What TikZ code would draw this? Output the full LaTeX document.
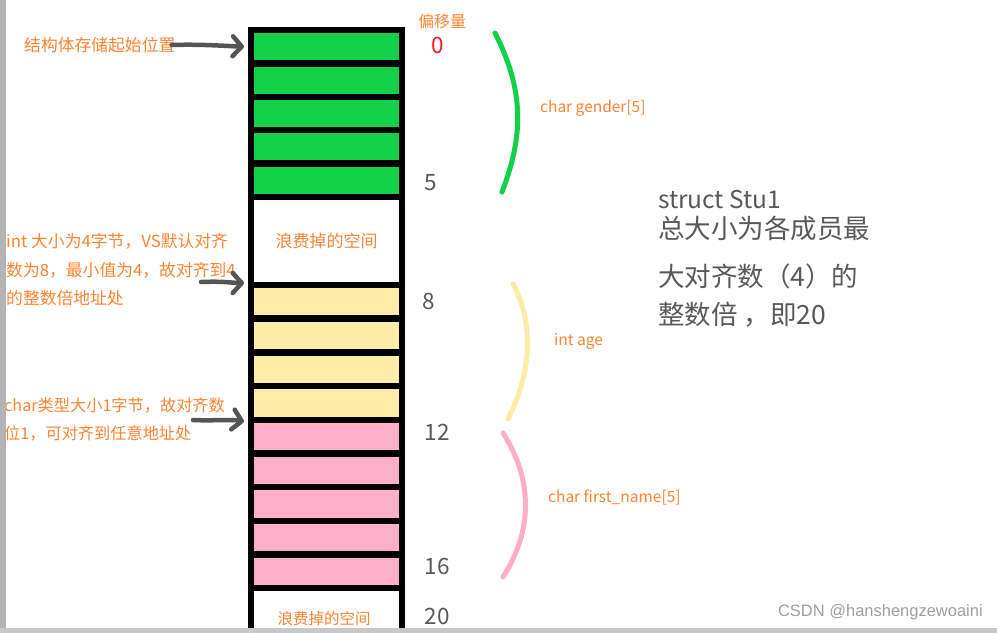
\documentclass[tikz,border=0pt]{standalone}
\usepackage{fontspec}
\setmainfont{Noto Sans CJK SC}
\newfontfamily\wmfont{Liberation Sans}
\usetikzlibrary{arrows.meta}
\definecolor{gfill}{HTML}{12D146}
\definecolor{yfill}{HTML}{FDECA6}
\definecolor{pfill}{HTML}{FFAEC9}
\definecolor{orangetxt}{HTML}{FF8433}
\definecolor{redtxt}{HTML}{ED1C24}
\definecolor{graytxt}{HTML}{595959}
\definecolor{arrowgray}{HTML}{555555}
\definecolor{stripgray}{HTML}{B4B4B4}
\definecolor{stripgraytwo}{HTML}{C8C8C8}
\tikzset{
  cell/.style={draw=black, line width=6.5pt, minimum width=151pt, inner sep=0pt, outer sep=0pt},
  offs/.style={text=graytxt, font=\fontsize{22.5}{26}\selectfont, inner sep=0pt},
  note/.style={text=orangetxt, font=\fontsize{16.8}{28.5}\selectfont, inner sep=0pt, align=left},
  memb/.style={text=orangetxt, font=\fontsize{15.5}{18}\selectfont, inner sep=0pt, anchor=west},
  summary/.style={text=graytxt, inner sep=0pt, anchor=west},
  brace/.style={line width=5pt, line cap=round},
  garrow/.style={draw=arrowgray, line width=4.5pt, line cap=round,
    -{Straight Barb[length=9pt,width=20pt,line cap=round,line join=round]}}
}
\begin{document}
\begin{tikzpicture}[x=1pt,y=-1pt]
\useasboundingbox (0,0) rectangle (997,633);
\fill[white] (0,0) rectangle (997,633);

% cells
\node[cell, fill=gfill, minimum height=33.4pt] (g0) at (326.5,46.7) {};
\node[cell, fill=gfill, minimum height=33.4pt] (g1) at (326.5,80.1) {};
\node[cell, fill=gfill, minimum height=33.4pt] (g2) at (326.5,113.5) {};
\node[cell, fill=gfill, minimum height=33.4pt] (g3) at (326.5,146.9) {};
\node[cell, fill=gfill, minimum height=33.4pt] (g4) at (326.5,180.3) {};
\node[cell, fill=white, minimum height=88pt] (w0) at (326.5,241) {};
\node[cell, fill=yfill, minimum height=33.75pt] (y0) at (326.5,301.9) {};
\node[cell, fill=yfill, minimum height=33.75pt] (y1) at (326.5,335.6) {};
\node[cell, fill=yfill, minimum height=33.75pt] (y2) at (326.5,369.4) {};
\node[cell, fill=yfill, minimum height=33.75pt] (y3) at (326.5,403.1) {};
\node[cell, fill=pfill, minimum height=33.6pt] (p0) at (326.5,436.8) {};
\node[cell, fill=pfill, minimum height=33.6pt] (p1) at (326.5,470.4) {};
\node[cell, fill=pfill, minimum height=33.6pt] (p2) at (326.5,504) {};
\node[cell, fill=pfill, minimum height=33.6pt] (p3) at (326.5,537.6) {};
\node[cell, fill=pfill, minimum height=33.6pt] (p4) at (326.5,571.2) {};
\node[inner sep=0pt, minimum width=151pt, minimum height=45pt] (w1) at (326.5,610.5) {};
\draw[line width=6.5pt] (w1.south west) -- (w1.north west) -- (w1.north east) -- (w1.south east);

% cell texts
\node[text=orangetxt, font=\fontsize{17}{20}\selectfont, inner sep=0pt] (wt0) at (w0) {浪费掉的空间};
\node[text=orangetxt, font=\fontsize{15.5}{18}\selectfont, inner sep=0pt] (wt1) at (324,619) {浪费掉的空间};

% offsets
\node[text=orangetxt, font=\fontsize{16}{19}\selectfont, inner sep=0pt] (ohead) at (442,21) {偏移量};
\node[offs, text=redtxt] (o0) at (438,45) {0};
\node[offs] (o5) at (431,183) {5};
\node[offs] (o8) at (429,301) {8};
\node[offs] (o12) at (437,432) {12};
\node[offs] (o16) at (437,566) {16};
\node[offs] (o20) at (437,616) {20};

% braces
\draw[brace, gfill] (495,33) .. controls (524,90) and (524,135) .. (502,192);
\draw[brace, yfill] (513,284) .. controls (533,320) and (533,370) .. (508,419);
\draw[brace, pfill] (503,433) .. controls (533,480) and (533,530) .. (503,577);

% member labels
\node[memb] (mg) at (540,108) {char gender[5]};
\node[memb] (ma) at (554,341) {int age};
\node[memb] (mf) at (548,498) {char first\_name[5]};

% summary text
\node[summary, font=\fontsize{24.5}{28}\selectfont] (s0) at (658,200) {struct Stu1};
\node[summary, font=\fontsize{26.5}{30}\selectfont] (s1) at (658,228) {总大小为各成员最};
\node[summary, font=\fontsize{26.5}{30}\selectfont] (s2) at (658,276) {大对齐数（4）的};
\node[summary, font=\fontsize{26.5}{30}\selectfont] (s3) at (658,315) {整数倍 ，即20};

% left notes
\node[note, anchor=west] (t1) at (24,45) {结构体存储起始位置};
\node[note, anchor=west] (t2) at (6,270) {int 大小为4字节，VS默认对齐\\数为8，最小值为4，故对齐到4\\的整数倍地址处};
\node[note, anchor=west, font=\fontsize{16.2}{28.5}\selectfont] (t3) at (4,419.5) {char类型大小1字节，故对齐数\\位1，可对齐到任意地址处};

% arrows
\coordinate (a2) at (201,282);
\coordinate (a3) at (193,420);
\draw[garrow, shorten >=3pt] ([xshift=-4pt]t1.east) .. controls (200,44) and (225,46) .. ([xshift=-4pt]g0.west);
\draw[garrow, shorten >=3pt] (a2) .. controls (225,281) and (232,283) .. ([xshift=-4pt,yshift=2pt]y0.north west);
\draw[garrow, shorten >=3pt] (a3) .. controls (215,421) and (230,419) .. ([xshift=-4pt,yshift=-2pt]p0.north west);

% watermark
\node[text=gray!75, font=\wmfont\fontsize{16.5}{20}\selectfont, anchor=east, inner sep=0pt] (wm) at (983,612) {CSDN @hanshengzewoaini};

% frame strips
\fill[stripgray] (0,0) rectangle (6,633);
\fill[stripgraytwo] (0,628) rectangle (997,633);
\end{tikzpicture}
\end{document}
